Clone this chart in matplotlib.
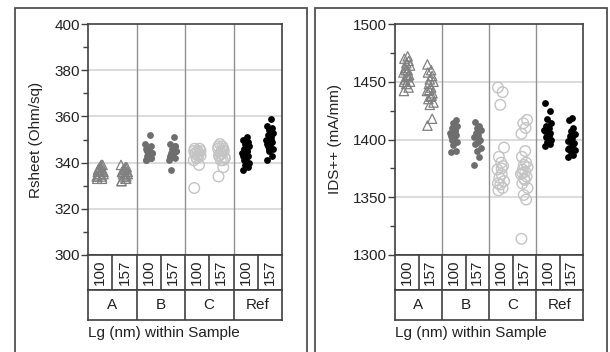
import numpy as np
import matplotlib
matplotlib.use("Agg")
import matplotlib.pyplot as plt
from matplotlib.patches import Rectangle
from matplotlib.ticker import MultipleLocator

plt.rcParams['font.family'] = ['Liberation Sans', 'DejaVu Sans']

samples = ["A", "B", "C", "Ref"]
lgs = ["100", "157"]

# Rsheet (Ohm/sq) per sample / Lg
rsheet = {
    ("A", "100"): [333, 334, 335, 336, 337, 338, 339, 334, 336, 337, 335, 338, 333, 336, 339, 334, 337, 335],
    ("A", "157"): [332, 333, 334, 335, 336, 337, 338, 339, 333, 335, 336, 337, 334, 336, 338, 332, 335, 337],
    ("B", "100"): [341, 342, 343, 344, 345, 346, 347, 348, 352, 343, 344, 345, 342, 346, 344, 341],
    ("B", "157"): [348, 347, 346, 345, 344, 343, 342, 341, 351, 337, 345, 344, 347, 343, 346, 342],
    ("C", "100"): [329, 339, 342, 343, 344, 345, 346, 341, 343, 344, 345, 342, 344, 346, 343, 345],
    ("C", "157"): [334, 338, 341, 342, 343, 344, 345, 346, 347, 348, 342, 344, 346, 343, 345, 347, 341, 344],
    ("Ref", "100"): [337, 338, 339, 340, 341, 342, 343, 344, 345, 346, 347, 348, 349, 350, 351, 343, 345, 341],
    ("Ref", "157"): [341, 343, 345, 346, 347, 348, 349, 350, 351, 352, 353, 354, 355, 356, 359, 348, 350, 346],
}

# IDS++ (mA/mm) per sample / Lg
ids = {
    ("A", "100"): [1442, 1445, 1448, 1450, 1452, 1454, 1456, 1458, 1460, 1462, 1464, 1466, 1468, 1470, 1472, 1450, 1455, 1460],
    ("A", "157"): [1412, 1418, 1430, 1432, 1435, 1437, 1440, 1442, 1445, 1448, 1450, 1452, 1455, 1458, 1460, 1465, 1438, 1443],
    ("B", "100"): [1389, 1390, 1395, 1398, 1400, 1402, 1404, 1406, 1408, 1410, 1412, 1414, 1417, 1403, 1407],
    ("B", "157"): [1378, 1385, 1390, 1393, 1396, 1398, 1400, 1402, 1404, 1406, 1408, 1410, 1412, 1415, 1401],
    ("C", "100"): [1445, 1441, 1430, 1393, 1385, 1380, 1377, 1374, 1370, 1367, 1364, 1361, 1358, 1356, 1375, 1362],
    ("C", "157"): [1314, 1348, 1352, 1358, 1362, 1365, 1368, 1370, 1372, 1374, 1376, 1378, 1380, 1385, 1390, 1405, 1410, 1414, 1417, 1366, 1371],
    ("Ref", "100"): [1394, 1396, 1398, 1400, 1402, 1404, 1406, 1408, 1410, 1412, 1414, 1418, 1425, 1432, 1403, 1407],
    ("Ref", "157"): [1385, 1387, 1389, 1391, 1393, 1395, 1397, 1399, 1401, 1403, 1405, 1407, 1410, 1417, 1419, 1392, 1396],
}

jitter = [-0.06, 0.04, -0.01, 0.07, -0.04, 0.01, 0.05, -0.07, 0.02, -0.03,
          0.07, -0.01, 0.04, -0.05, 0.02, -0.06, 0.03, -0.02, 0.06, 0.0, -0.04]

styles = {
    "A": dict(marker="^", facecolors="none", edgecolors="#808080", s=45, linewidths=0.9),
    "B": dict(marker="o", color="#6e6e6e", s=24, linewidths=0),
    "C": dict(marker="o", facecolors="none", edgecolors="#c4c4c4", s=58, linewidths=1.0),
    "Ref": dict(marker="o", color="#000000", s=24, linewidths=0),
}

W, H = 610, 352
fig = plt.figure(figsize=(W / 100, H / 100), dpi=100)

def fx(px):
    return px / W

def fy(py):
    return 1 - py / H

# outer panel frames
for x0, x1 in [(15, 307), (315, 607)]:
    fig.patches.append(Rectangle((fx(x0), -0.1), fx(x1 - x0), fy(8) + 0.1,
                                 transform=fig.transFigure, fill=False,
                                 edgecolor="#505050", linewidth=1.3))

spine_c = "#404040"
text_c = "#222222"
fs = 11

def panel(left, right, data, ylim, major, minor, ylabel):
    ax = fig.add_axes([fx(left), fy(255), fx(right - left), (255 - 24) / H])
    for (smp, lg), vals in data.items():
        i = samples.index(smp)
        j = lgs.index(lg)
        xs = [i + 0.25 + 0.5 * j + jitter[k % len(jitter)] for k in range(len(vals))]
        ax.scatter(xs, vals, zorder=3, **styles[smp])
    ax.set_xlim(0, 4)
    ax.set_ylim(*ylim)
    ax.set_xticks([])
    ax.yaxis.set_major_locator(MultipleLocator(major))
    ax.yaxis.set_minor_locator(MultipleLocator(minor))
    ax.tick_params(axis="y", which="major", length=5, width=1, color=spine_c,
                   labelsize=fs, labelcolor=text_c, pad=1)
    ax.tick_params(axis="y", which="minor", length=3.5, width=1, color=spine_c)
    for v in np.arange(ylim[0] + major, ylim[1], major):
        ax.axhline(v, color="#d9d9d9", lw=1.3, zorder=1)
    for k in range(1, 4):
        ax.axvline(k, color="#909090", lw=1.0, zorder=1)
    for sp in ax.spines.values():
        sp.set_color(spine_c)
        sp.set_linewidth(1.2)
    ax.set_ylabel(ylabel, fontsize=fs, color=text_c, labelpad=8)

    # category table under the axes
    r1 = fig.add_axes([fx(left), fy(290), fx(right - left), 35 / H])
    r2 = fig.add_axes([fx(left), fy(320), fx(right - left), 30 / H])
    for r in (r1, r2):
        r.set_xlim(0, 4)
        r.set_ylim(0, 1)
        r.set_xticks([])
        r.set_yticks([])
        for sp in r.spines.values():
            sp.set_color(spine_c)
            sp.set_linewidth(1.2)
    for k in range(1, 8):
        r1.axvline(k * 0.5, color=spine_c, lw=1.2)
    for k in range(1, 4):
        r2.axvline(k, color=spine_c, lw=1.2)
    for i, smp in enumerate(samples):
        for j, lg in enumerate(lgs):
            r1.text(i + 0.25 + 0.5 * j, 0.5, lg, rotation=90, ha="center", va="center",
                    fontsize=fs, color=text_c)
        r2.text(i + 0.5, 0.5, smp, ha="center", va="center", fontsize=fs, color=text_c)
    fig.text(fx(left), fy(333), "Lg (nm) within Sample", ha="left", va="center",
             fontsize=fs, color=text_c)
    return ax

panel(88, 282, rsheet, (300, 400), 20, 10, "Rsheet (Ohm/sq)")
panel(395, 583, ids, (1300, 1500), 50, 25, "IDS++ (mA/mm)")

fig.savefig("out.png", dpi=100)
